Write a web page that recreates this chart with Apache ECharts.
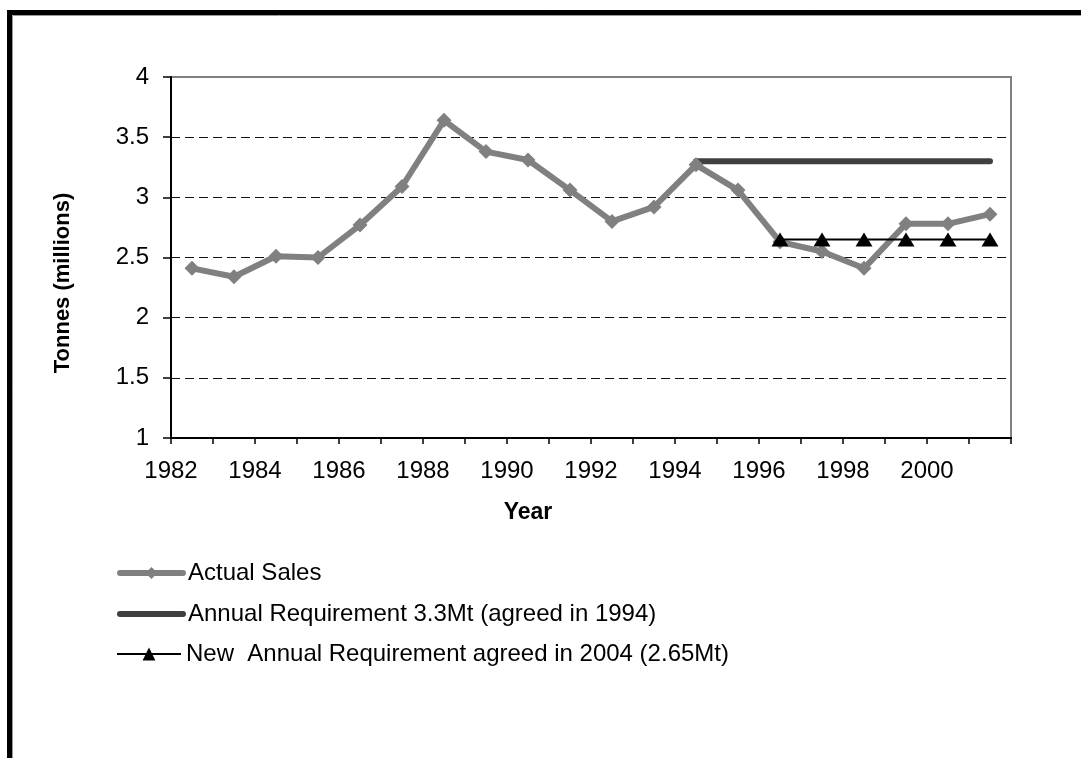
<!DOCTYPE html>
<html><head><meta charset="utf-8">
<script src="https://cdn.jsdelivr.net/npm/echarts@6/dist/echarts.min.js"></script>
<style>html,body{margin:0;padding:0;background:#fff}#c{width:1081px;height:758px}</style>
</head><body><div id="c"></div>
<script>
// ---- data ----
const years = [1982,1983,1984,1985,1986,1987,1988,1989,1990,1991,1992,1993,1994,1995,1996,1997,1998,1999,2000,2001];
const actualSales = [2.41,2.34,2.51,2.50,2.77,3.09,3.64,3.38,3.31,3.06,2.80,2.92,3.27,3.06,2.63,2.55,2.41,2.78,2.78,2.86];
const req1994Years = [1994,1995,1996,1997,1998,1999,2000,2001];
const req1994Values = [3.3,3.3,3.3,3.3,3.3,3.3,3.3,3.3];
const req2004Years = [1996,1997,1998,1999,2000,2001];
const req2004Values = [2.65,2.65,2.65,2.65,2.65,2.65];
const xTickLabels = ['1982','1984','1986','1988','1990','1992','1994','1996','1998','2000'];
const yTickLabels = ['1','1.5','2','2.5','3','3.5','4'];
const seriesNames = ['Actual Sales','Annual Requirement 3.3Mt (agreed in 1994)','New  Annual Requirement agreed in 2004 (2.65Mt)'];

// each year's value is plotted mid-way through its year on the axis
const pts = (xs, ys) => xs.map((x, i) => [x + 0.5, ys[i]]);

const FONT = "'Liberation Sans', Arial, sans-serif";
const chart = echarts.init(document.getElementById('c'), null, {renderer: 'canvas'});

const legendBase = {
  orient: 'vertical', left: 117, itemWidth: 63, itemHeight: 15, itemGap: 5,
  textStyle: {fontFamily: FONT, fontSize: 24, color: '#000'},
  selectedMode: false, padding: 0
};

chart.setOption({
  animation: false,
  backgroundColor: '#fff',
  grid: {left: 171, top: 77, right: 70, bottom: 320, show: true, borderColor: '#808080', borderWidth: 2, backgroundColor: 'transparent'},
  xAxis: {
    type: 'value', min: 1982, max: 2002, interval: 1,
    axisLine: {show: true, lineStyle: {color: '#000', width: 2}},
    axisTick: {show: true, length: 6, lineStyle: {color: '#000', width: 1.5}},
    axisLabel: {
      margin: 21, fontFamily: FONT, fontSize: 24, color: '#000',
      showMaxLabel: true, showMinLabel: true,
      formatter: v => xTickLabels.includes(String(v)) ? String(v) : ''
    },
    splitLine: {show: false}
  },
  yAxis: {
    type: 'value', min: 1, max: 4, interval: 0.5,
    axisLine: {show: true, lineStyle: {color: '#000', width: 2}},
    axisTick: {show: true, length: 8, lineStyle: {color: '#000', width: 1.5}},
    axisLabel: {margin: 22, fontFamily: FONT, fontSize: 24, color: '#000',
      formatter: v => yTickLabels.find(t => Math.abs(parseFloat(t) - v) < 1e-9) || ''},
    splitLine: {show: true, showMinLine: false, showMaxLine: false, lineStyle: {color: '#111', width: 1, type: [9, 5]}}
  },
  legend: [
    Object.assign({}, legendBase, {top: 561, data: [{name: seriesNames[0], lineStyle: {width: 6, cap: 'round'}}]}),
    Object.assign({}, legendBase, {top: 602, data: [{name: seriesNames[1], lineStyle: {width: 6, cap: 'round'}, itemStyle: {opacity: 0}}]}),
    Object.assign({}, legendBase, {top: 642, left: 116, itemWidth: 64, itemHeight: 16, data: [{name: seriesNames[2], lineStyle: {width: 2}}]})
  ],
  series: [
    {
      name: seriesNames[0], type: 'line', data: pts(years, actualSales),
      symbol: 'diamond', symbolSize: 15,
      lineStyle: {color: '#808080', width: 6, join: 'round'},
      itemStyle: {color: '#808080'}, z: 3
    },
    {
      name: seriesNames[1], type: 'line', data: pts(req1994Years, req1994Values),
      symbol: 'none', showSymbol: false,
      lineStyle: {color: '#404040', width: 6, cap: 'round'},
      itemStyle: {color: '#404040'}, z: 2
    },
    {
      name: seriesNames[2], type: 'line', data: pts(req2004Years, req2004Values),
      symbol: 'triangle', symbolSize: [17, 14],
      lineStyle: {color: '#000', width: 2},
      itemStyle: {color: '#000'}, z: 4
    }
  ],
  graphic: [
    {type: 'polyline', shape: {points: [[9.5, 758], [9.5, 12.5], [1081, 12.5]]}, style: {stroke: '#000', lineWidth: 5, fill: null}, silent: true},
    {type: 'polyline', shape: {points: [[12.5, 758], [12.5, 15.5], [1081, 15.5]]}, style: {stroke: '#999', lineWidth: 1, fill: null}, silent: true},
    {type: 'text', x: 528, y: 513, style: {text: 'Year', font: "bold 23px " + FONT, fill: '#000', textAlign: 'center', textVerticalAlign: 'middle'}, silent: true},
    {type: 'text', rotation: Math.PI / 2, x: 63, y: 283, style: {text: 'Tonnes (millions)', font: "bold 22px " + FONT, fill: '#000', textAlign: 'center', textVerticalAlign: 'middle'}, silent: true}
  ]
});
</script></body></html>
